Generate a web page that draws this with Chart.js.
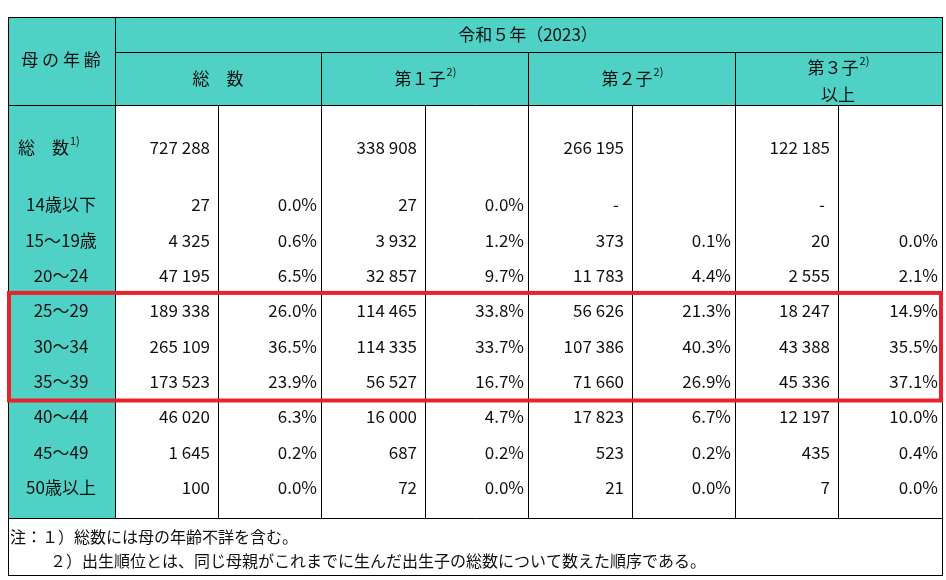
<!DOCTYPE html>
<html><head><meta charset="utf-8">
<script src="https://cdn.jsdelivr.net/npm/chart.js@4"></script>
<style>html,body{margin:0;padding:0;background:#fff}</style>
</head><body>
<canvas id="tbl" width="946" height="580"></canvas>
<script>
var ages = ['14歳以下', '15～19歳', '20～24', '25～29', '30～34', '35～39', '40～44', '45～49', '50歳以上'];
var totalAll = '727 288', firstAll = '338 908', secondAll = '266 195', thirdAll = '122 185';
var totalN = ['27', '4 325', '47 195', '189 338', '265 109', '173 523', '46 020', '1 645', '100'];
var totalP = ['0.0%', '0.6%', '6.5%', '26.0%', '36.5%', '23.9%', '6.3%', '0.2%', '0.0%'];
var firstN = ['27', '3 932', '32 857', '114 465', '114 335', '56 527', '16 000', '687', '72'];
var firstP = ['0.0%', '1.2%', '9.7%', '33.8%', '33.7%', '16.7%', '4.7%', '0.2%', '0.0%'];
var secondN = ['-', '373', '11 783', '56 626', '107 386', '71 660', '17 823', '523', '21'];
var secondP = ['', '0.1%', '4.4%', '21.3%', '40.3%', '26.9%', '6.7%', '0.2%', '0.0%'];
var thirdN = ['-', '20', '2 555', '18 247', '43 388', '45 336', '12 197', '435', '7'];
var thirdP = ['', '0.0%', '2.1%', '14.9%', '35.5%', '37.1%', '10.0%', '0.4%', '0.0%'];
var highlight = ['25～29', '30～34', '35～39'];

var FONT = '"Noto Sans CJK JP", "Noto Sans", sans-serif';
var TEAL = '#4fd1c5';

var tablePlugin = {
    id: 'tablePlugin',
    afterDraw: function (chart) {
        var ctx = chart.ctx, sx = chart.scales.x, sy = chart.scales.y;
        var X = function (v) { return sx.getPixelForValue(v); };
        var Y = function (v) { return sy.getPixelForValue(v); };
        var cols = [8, 115, 218, 321, 425, 528, 632, 735, 838, 942];
        var rowY = function (i) { return 205 + 35.3 * i; };

        ctx.save();
        // fills
        ctx.fillStyle = TEAL;
        ctx.fillRect(X(8), Y(17), X(942) - X(8), Y(105) - Y(17));
        ctx.fillRect(X(8), Y(105), X(115) - X(8), Y(518) - Y(105));

        // lines
        ctx.strokeStyle = '#000';
        ctx.lineWidth = 1;
        function line(x1, y1, x2, y2) {
            ctx.beginPath(); ctx.moveTo(X(x1) + 0.5, Y(y1) + 0.5); ctx.lineTo(X(x2) + 0.5, Y(y2) + 0.5); ctx.stroke();
        }
        ctx.strokeRect(X(8) + 0.5, Y(17) + 0.5, X(942) - X(8), Y(575) - Y(17));
        line(115, 17, 115, 518);
        line(115, 52, 942, 52);
        line(8, 105, 942, 105);
        line(8, 518, 942, 518);
        [321, 528, 735].forEach(function (c) { line(c, 52, c, 518); });
        [218, 425, 632, 838].forEach(function (c) { line(c, 105, c, 518); });

        // text helpers
        ctx.fillStyle = '#111';
        ctx.textBaseline = 'middle';
        function txt(s, x, y, align, size) {
            ctx.font = (size || 17) + 'px ' + FONT;
            ctx.textAlign = align || 'center';
            ctx.fillText(s, X(x), Y(y));
        }
        function supText(s, sup, cx, y, align) {
            ctx.font = '17px ' + FONT;
            var w1 = ctx.measureText(s).width;
            ctx.font = '11px ' + FONT;
            var w2 = ctx.measureText(sup).width;
            var left = align === 'left' ? X(cx) : X(cx) - (w1 + w2) / 2;
            ctx.textAlign = 'left';
            ctx.font = '17px ' + FONT;
            ctx.fillText(s, left, Y(y));
            ctx.font = '11px ' + FONT;
            ctx.fillText(sup, left + w1 + 1, Y(y) - 7);
        }

        // header
        txt('母 の 年 齢', 61, 60);
        txt('令和５年（2023）', 528, 35);
        txt('総　数', 218, 79);
        supText('第１子', '2)', 425, 79);
        supText('第２子', '2)', 632, 79);
        supText('第３子', '2)', 838, 68);
        txt('以上', 838, 95);

        // totals row
        supText('総　数', '1)', 18, 148, 'left');
        [totalAll, firstAll, secondAll, thirdAll].forEach(function (v, k) {
            txt(v, cols[1 + 2 * k + 1] - 8, 148, 'right');
        });

        // age rows
        var nums = [totalN, firstN, secondN, thirdN];
        var pcts = [totalP, firstP, secondP, thirdP];
        ages.forEach(function (a, i) {
            var y = rowY(i);
            txt(a, 61, y);
            for (var k = 0; k < 4; k++) {
                var nx = cols[2 + 2 * k] - 8;
                if (nums[k][i] === '-') nx -= 5;
                txt(nums[k][i], nx, y, 'right');
                txt(pcts[k][i], cols[3 + 2 * k] - 4, y, 'right');
            }
        });

        // highlight box
        var first = ages.indexOf(highlight[0]), last = ages.indexOf(highlight[highlight.length - 1]);
        ctx.strokeStyle = '#e8222a';
        ctx.lineWidth = 4;
        var top = rowY(first) - 18, bot = rowY(last) + 19;
        ctx.strokeRect(X(9), Y(top), X(941) - X(9), Y(bot) - Y(top));

        // notes
        txt('注：１）総数には母の年齢不詳を含む。', 10, 537, 'left', 16);
        txt('２）出生順位とは、同じ母親がこれまでに生んだ出生子の総数について数えた順序である。', 50, 561, 'left', 16);
        ctx.restore();
    }
};

new Chart(document.getElementById('tbl').getContext('2d'), {
    type: 'scatter',
    data: { datasets: [{ data: [] }] },
    options: {
        responsive: false,
        animation: false,
        layout: { padding: 0 },
        plugins: { legend: { display: false }, tooltip: { enabled: false } },
        scales: {
            x: { type: 'linear', min: 0, max: 946, display: false },
            y: { type: 'linear', min: 0, max: 580, reverse: true, display: false }
        }
    },
    plugins: [tablePlugin]
});
</script>
</body></html>
